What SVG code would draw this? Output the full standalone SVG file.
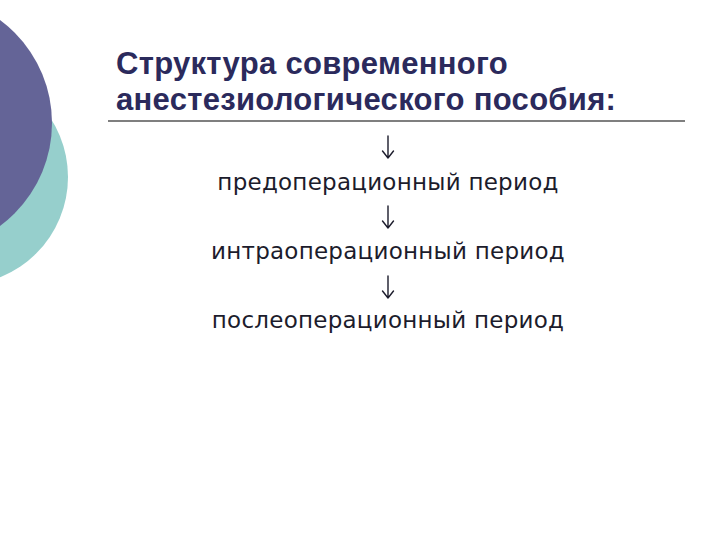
<svg xmlns="http://www.w3.org/2000/svg" width="720" height="540" viewBox="0 0 720 540">
<style>
.title{font-family:"Liberation Sans",Arial,sans-serif;font-weight:bold;font-size:31px;letter-spacing:0.3px;fill:#2b2a5c}
.body{font-family:"DejaVu Sans","Liberation Sans",sans-serif;font-size:23px;letter-spacing:0.25px;fill:#1c1c2c;text-anchor:middle}
.arr{fill:none;stroke:#1c1c2c;stroke-width:1.4;stroke-linecap:round;stroke-linejoin:round}
</style>
<defs>
<path id="down" d="M0,0 V22 M-5.5,15 L0,22 L5.5,15"/>
</defs>
<rect width="720" height="540" fill="#ffffff"/>
<g id="decor">
<circle cx="-40" cy="177" r="108" fill="#96cfcc"/>
<circle cx="-76" cy="123" r="128" fill="#646497"/>
</g>
<g id="title">
<text class="title" x="116" y="74">Структура современного</text>
<text class="title" x="116" y="110">анестезиологического пособия:</text>
<line x1="108" y1="121" x2="685" y2="121" stroke="#000" stroke-width="1.2"/>
</g>
<g id="connectors" class="arr">
<use href="#down" x="388" y="136"/>
<use href="#down" x="388" y="206"/>
<use href="#down" x="388" y="276"/>
</g>
<g id="n1"><text class="body" x="388" y="190">предоперационный период</text></g>
<g id="n2"><text class="body" x="388" y="259">интраоперационный период</text></g>
<g id="n3"><text class="body" x="388" y="328">послеоперационный период</text></g>
</svg>
